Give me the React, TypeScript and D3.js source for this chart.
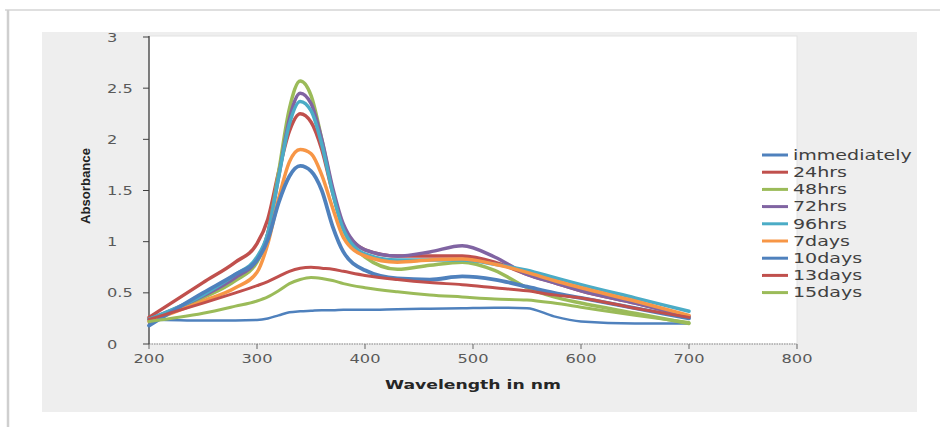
import React from 'react';
import * as d3 from 'd3';

// wavelengths sampled (nm)
const wavelengths = [200, 250, 280, 300, 310, 320, 330, 340, 350, 360, 370, 380, 400, 430, 460, 490, 520, 550, 575, 600, 650, 700];

const immediately = [0.24, 0.23, 0.23, 0.235, 0.25, 0.28, 0.31, 0.32, 0.325, 0.33, 0.33, 0.335, 0.335, 0.34, 0.345, 0.35, 0.355, 0.35, 0.27, 0.22, 0.2, 0.2];
const hrs24 = [0.26, 0.6, 0.8, 0.98, 1.22, 1.68, 2.08, 2.25, 2.17, 1.9, 1.48, 1.14, 0.92, 0.86, 0.86, 0.86, 0.8, 0.68, 0.6, 0.52, 0.4, 0.27];
const hrs48 = [0.24, 0.45, 0.62, 0.8, 1.08, 1.68, 2.3, 2.57, 2.43, 2.0, 1.5, 1.12, 0.85, 0.73, 0.77, 0.8, 0.72, 0.55, 0.46, 0.4, 0.3, 0.2];
const hrs72 = [0.24, 0.47, 0.65, 0.82, 1.08, 1.63, 2.2, 2.45, 2.35, 2.0, 1.53, 1.17, 0.92, 0.86, 0.9, 0.96, 0.85, 0.68, 0.6, 0.52, 0.4, 0.27];
const hrs96 = [0.24, 0.48, 0.68, 0.85, 1.08, 1.63, 2.15, 2.37, 2.28, 1.95, 1.48, 1.12, 0.88, 0.82, 0.82, 0.82, 0.78, 0.72, 0.65, 0.58, 0.45, 0.32];
const days7 = [0.22, 0.42, 0.55, 0.7, 0.98, 1.42, 1.78, 1.9, 1.86, 1.65, 1.33, 1.04, 0.86, 0.8, 0.82, 0.83, 0.78, 0.7, 0.62, 0.55, 0.42, 0.28];
const days10 = [0.18, 0.5, 0.68, 0.82, 1.02, 1.38, 1.64, 1.74, 1.69, 1.5, 1.15, 0.9, 0.72, 0.64, 0.63, 0.66, 0.63, 0.56, 0.5, 0.45, 0.35, 0.25];
const days13 = [0.24, 0.4, 0.5, 0.57, 0.61, 0.66, 0.71, 0.74, 0.75, 0.74, 0.73, 0.71, 0.67, 0.63, 0.6, 0.58, 0.55, 0.52, 0.48, 0.45, 0.35, 0.26];
const days15 = [0.22, 0.3, 0.37, 0.42, 0.46, 0.52, 0.59, 0.63, 0.65, 0.64, 0.62, 0.59, 0.55, 0.51, 0.48, 0.46, 0.44, 0.43, 0.4, 0.36, 0.28, 0.21];

const seriesNames = ['immediately', '24hrs', '48hrs', '72hrs', '96hrs', '7days', '10days', '13days', '15days'];
const seriesValues = [immediately, hrs24, hrs48, hrs72, hrs96, days7, days10, days13, days15];
const seriesColors = ['#4F81BD', '#C0504D', '#9BBB59', '#8064A2', '#4BACC6', '#F79646', '#4F81BD', '#C0504D', '#9BBB59'];
const seriesWidths = [2.5, 3.5, 3.5, 3.5, 3.5, 3.5, 3.8, 3, 3];

const xTicks = [200, 300, 400, 500, 600, 700, 800];
const yTicks = [0, 0.5, 1, 1.5, 2, 2.5, 3];

const SX = 1.3; // horizontal stretch of the text in the source image
const font = '"DejaVu Sans", Verdana, sans-serif';

const App = () => {
	const x = d3.scaleLinear().domain([200, 800]).range([149, 797]);
	const y = d3.scaleLinear().domain([0, 3]).range([344, 37]);

	const line = d3
		.line<number>()
		.x((d, i) => x(wavelengths[i]))
		.y(d => y(d))
		.curve(d3.curveMonotoneX);

	return (
		<svg width={940} height={427} style={{ position: 'absolute', left: 0, top: 0 }}>
			<rect x={0} y={0} width={940} height={427} fill="#fff" />
			<line x1={5} x2={940} y1={10} y2={10} stroke="#d4d4d4" strokeWidth={1.5} />
			<line x1={8} x2={8} y1={10} y2={427} stroke="#cfcfcf" strokeWidth={2.5} />
			<rect x={42} y={32} width={875} height={380} fill="#eeeeee" />
			<rect x={149} y={36} width={648} height={308} fill="#fff" stroke="#e2e2e2" strokeWidth={1} />

			{/* x axis */}
			<line x1={149} x2={797} y1={344} y2={344} stroke="#8a8a8a" strokeWidth={1} strokeDasharray="1.5,1" />
			{xTicks.map(t => (
				<g key={t}>
					<line x1={x(t)} x2={x(t)} y1={344} y2={349} stroke="#666" />
					<text
						transform={`translate(${x(t)},363) scale(${SX},1)`}
						textAnchor="middle"
						fontFamily={font}
						fontSize={12.5}
						fill="#595959"
					>
						{t}
					</text>
				</g>
			))}

			{/* y axis */}
			<line x1={149} x2={149} y1={36} y2={344} stroke="#404040" strokeWidth={1.3} />
			{yTicks.map(t => (
				<g key={t}>
					<line x1={143} x2={149} y1={y(t)} y2={y(t)} stroke="#404040" />
					<text
						transform={`translate(107,${y(t) + 4.5}) scale(${SX},1)`}
						fontFamily={font}
						fontSize={12.5}
						fill="#595959"
					>
						{t}
					</text>
				</g>
			))}

			<text
				transform="translate(90,186) rotate(-90)"
				textAnchor="middle"
				fontFamily='"Liberation Sans", Arial, sans-serif'
				fontWeight="bold"
				fontSize={13}
				textLength={76}
				lengthAdjust="spacingAndGlyphs"
				fill="#222"
			>
				Absorbance
			</text>
			<text
				x={473}
				y={389}
				textAnchor="middle"
				fontFamily={font}
				fontWeight="bold"
				fontSize={13}
				textLength={176}
				lengthAdjust="spacingAndGlyphs"
				fill="#262626"
			>
				Wavelength in nm
			</text>

			{/* curves */}
			<g fill="none" strokeLinejoin="round" strokeLinecap="round">
				{seriesValues.map((vals, i) => (
					<path key={seriesNames[i]} d={line(vals) || ''} stroke={seriesColors[i]} strokeWidth={seriesWidths[i]} />
				))}
			</g>

			{/* legend */}
			{seriesNames.map((name, i) => {
				const ly = 155 + i * 17.2;
				return (
					<g key={name}>
						<line x1={762} x2={788} y1={ly} y2={ly} stroke={seriesColors[i]} strokeWidth={3} />
						<text
							transform={`translate(793,${ly + 4.8}) scale(1.36,1)`}
							fontFamily={font}
							fontSize={14}
							fill="#404040"
						>
							{name}
						</text>
					</g>
				);
			})}
		</svg>
	);
};

export default App;
